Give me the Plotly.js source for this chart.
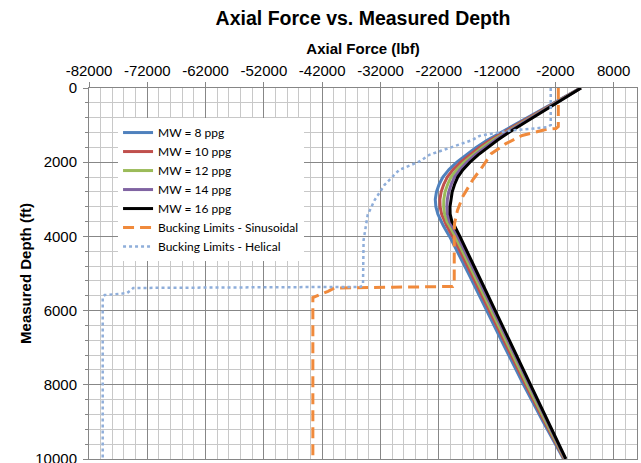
<!DOCTYPE html>
<html>
<head>
<meta charset="utf-8">
<script src="https://cdn.plot.ly/plotly-3.0.1.min.js"></script>
<style>
  html, body { margin: 0; padding: 0; background: #ffffff; }
  #chart { width: 641px; height: 463px; }
</style>
</head>
<body>
<div id="chart"></div>
<script>
// Measured depth stations (ft) shared by the mud-weight curves
const depth = [0, 200, 400, 600, 800, 1000, 1200, 1400, 1600, 1800, 2000, 2200, 2400, 2600,
  2800, 3000, 3200, 3400, 3600, 3700, 3800, 3900, 4000, 5000, 6000, 7000, 8000, 9000, 10000];

// Axial force (lbf) for each mud weight
const forceMW8 = [2300, 20, -2360, -4730, -7050, -9330, -11550, -13650, -15600, -17350, -18900, -20250,
  -21300, -21950, -22400, -22600, -22500, -22150, -21600, -21250, -20900, -20500, -20150,
  -16900, -13800, -10650, -7450, -4100, -600];
const forceMW10 = [2330, 110, -2180, -4460, -6700, -8930, -11090, -13130, -15020, -16720, -18230, -19530,
  -20540, -21160, -21590, -21810, -21770, -21520, -21050, -20680, -20330, -19960, -19620,
  -16440, -13360, -10240, -7090, -3840, -480];
const forceMW12 = [2360, 190, -2030, -4240, -6420, -8590, -10700, -12690, -14530, -16200, -17660, -18930,
  -19900, -20490, -20920, -21140, -21170, -21000, -20580, -20210, -19860, -19500, -19180,
  -16050, -12990, -9900, -6800, -3620, -380];
const forceMW14 = [2380, 250, -1890, -4030, -6150, -8280, -10340, -12290, -14080, -15710, -17150, -18380,
  -19310, -19880, -20290, -20530, -20610, -20510, -20160, -19770, -19420, -19090, -18770,
  -15690, -12650, -9590, -6520, -3420, -290];
const forceMW16 = [2400, 320, -1760, -3830, -5900, -7980, -10000, -11900, -13650, -15250, -16650, -17850,
  -18750, -19300, -19700, -19950, -20080, -20050, -19750, -19350, -19000, -18690, -18380,
  -15350, -12320, -9290, -6260, -3230, -200];

// Buckling limit - sinusoidal
const sinDepth = [0, 1040, 1090, 1110, 1190, 1280, 1500, 1770, 2120, 2480, 2930, 3300, 3650, 4000,
  5280, 5350, 5370, 5390, 5480, 5600, 5650, 10000];
const sinForce = [-1500, -1500, -1900, -3500, -5400, -7700, -10500, -13000, -14500, -16200, -17900,
  -18800, -19300, -19350, -19350, -19600, -30000, -39900, -41000, -43000, -43600, -43600];

// Buckling limit - helical
const helDepth = [0, 1000, 1060, 1100, 1140, 1210, 1290, 1400, 1580, 1800, 1980, 2210, 2610, 3020,
  3420, 4100, 5300, 5360, 5370, 5390, 5450, 5530, 5580, 5630, 10000];
const helForce = [-2800, -2800, -3500, -6500, -9400, -12200, -15000, -16200, -19600, -23600, -25300,
  -28800, -31300, -33000, -34200, -34900, -35000, -35400, -50000, -74400, -74800, -75500,
  -79300, -79650, -79650];

// Series names
const seriesNames = ['MW = 8 ppg', 'MW = 10 ppg', 'MW = 12 ppg', 'MW = 14 ppg', 'MW = 16 ppg',
  'Bucking Limits - Sinusoidal', 'Bucking Limits - Helical'];

// Axis ticks
const xTickVals = [-82000, -72000, -62000, -52000, -42000, -32000, -22000, -12000, -2000, 8000];
const xTickText = ['-82000', '-72000', '-62000', '-52000', '-42000', '-32000', '-22000', '-12000', '-2000', '8000'];
const yTickVals = [0, 2000, 4000, 6000, 8000, 10000];
const yTickText = ['0', '2000', '4000', '6000', '8000', '10000'];

const sans = 'Liberation Sans, Arial, sans-serif';
const mwColors = ['#4F81BD', '#C0504D', '#9BBB59', '#8064A2', '#000000'];
const mwForces = [forceMW8, forceMW10, forceMW12, forceMW14, forceMW16];

const traces = mwForces.map((f, i) => ({
  type: 'scatter', mode: 'lines',
  x: f, y: depth,
  name: seriesNames[i],
  line: { color: mwColors[i], width: 3 }
}));

traces.push({
  type: 'scatter', mode: 'lines',
  x: sinForce, y: sinDepth,
  name: seriesNames[5],
  line: { color: '#F08A3C', width: 3, dash: '11px,6px' }
});

traces.push({
  type: 'scatter', mode: 'lines',
  x: helForce, y: helDepth,
  name: seriesNames[6],
  line: { color: '#8FAEDA', width: 2.5, dash: 'dot' }
});

const layout = {
  width: 641, height: 463,
  margin: { l: 89, r: 4, t: 88, b: 4 },
  paper_bgcolor: '#ffffff', plot_bgcolor: '#ffffff',
  showlegend: true,
  title: {
    text: 'Axial Force vs. Measured Depth',
    font: { family: sans, size: 19.5, weight: 'bold', color: '#000000' },
    xref: 'paper', x: 0.5, xanchor: 'center',
    yref: 'container', y: 1 - 18 / 463, yanchor: 'middle'
  },
  xaxis: {
    side: 'top',
    range: [-82000, 12000],
    tickmode: 'array', tickvals: xTickVals, ticktext: xTickText,
    ticks: 'outside', ticklen: 5, tickcolor: '#868686',
    showline: true, linecolor: '#868686', linewidth: 1, mirror: true,
    showgrid: true, gridcolor: '#878787', gridwidth: 1,
    zeroline: false,
    tickfont: { family: sans, size: 15, color: '#000000' },
    title: {
      text: 'Axial Force (lbf)',
      font: { family: sans, size: 15, weight: 'bold', color: '#000000' },
      standoff: 3
    },
    minor: { tick0: -82000, dtick: 2000, showgrid: true, gridcolor: '#C8C8C8', gridwidth: 1 }
  },
  yaxis: {
    range: [10000, 0],
    tickmode: 'array', tickvals: yTickVals, ticktext: yTickText,
    ticks: 'outside', ticklen: 5, tickcolor: '#868686',
    showline: true, linecolor: '#868686', linewidth: 1, mirror: true,
    showgrid: true, gridcolor: '#878787', gridwidth: 1,
    zeroline: false,
    ticklabeloverflow: 'allow',
    tickfont: { family: sans, size: 15, color: '#000000' },
    ticklabelstandoff: 3,
    title: {
      text: 'Measured Depth (ft)',
      font: { family: sans, size: 15, weight: 'bold', color: '#000000' },
      standoff: 0
    },
    minor: { tick0: 0, dtick: 400, showgrid: true, gridcolor: '#C8C8C8', gridwidth: 1,
      ticks: 'outside', ticklen: 3, tickcolor: '#868686' }
  },
  legend: {
    x: 0.053, y: 0.919, xanchor: 'left', yanchor: 'top',
    bgcolor: '#ffffff', borderwidth: 0,
    font: { family: 'Lato, Carlito, sans-serif', size: 12, color: '#000000' },
    tracegroupgap: 0
  }
};

Plotly.newPlot('chart', traces, layout, { displayModeBar: false, staticPlot: true });
</script>
</body>
</html>
